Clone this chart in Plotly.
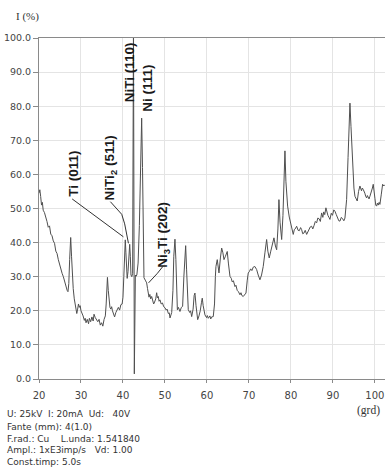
import plotly.graph_objects as go

two_theta = [
    20.0, 20.2, 20.4, 20.6, 20.8, 21.0, 21.3, 21.6, 21.9, 22.2, 22.5, 22.8, 23.1, 23.4, 23.7,
    24.0, 24.3, 24.6, 24.9, 25.2, 25.5, 25.8, 26.1, 26.4, 26.7, 26.9, 27.1, 27.3, 27.55, 27.75,
    27.95, 28.15, 28.4, 28.7, 29.0, 29.2, 29.4, 29.6, 29.8, 30.0, 30.2, 30.5, 30.8, 31.0, 31.2,
    31.5, 31.8, 32.0, 32.3, 32.6, 32.9, 33.1, 33.4, 33.7, 34.0, 34.3, 34.6, 34.9, 35.2, 35.5,
    35.8, 36.0, 36.15, 36.3, 36.5, 36.7, 36.9, 37.1, 37.3, 37.5, 37.8, 38.0, 38.3, 38.6, 38.9,
    39.2, 39.5, 39.8, 40.0, 40.2, 40.4, 40.55, 40.7, 40.85, 41.0, 41.2, 41.4, 41.6, 41.75, 41.9,
    42.1, 42.3, 42.5, 42.7, 42.95, 43.1, 43.3, 43.6, 43.9, 44.2, 44.45, 44.65, 44.85, 45.0, 45.3,
    45.64, 45.85, 46.02, 46.2, 46.4, 46.6, 46.83, 47.1, 47.3, 47.45, 47.6, 47.8, 48.02, 48.2,
    48.4, 48.6, 48.81, 49.1, 49.4, 49.7, 50.0, 50.3, 50.5, 50.8, 51.02, 51.2, 51.6, 51.9, 52.1,
    52.38, 52.6, 52.8, 52.95, 53.2, 53.4, 53.57, 53.9, 54.2, 54.5, 54.75, 54.93, 55.15, 55.35,
    55.55, 55.9, 56.1, 56.36, 56.7, 56.95, 57.14, 57.4, 57.79, 58.1, 58.4, 58.7, 58.88, 59.1,
    59.52, 59.9, 60.1, 60.31, 60.7, 60.9, 61.1, 61.5, 61.8, 62.0, 62.14, 62.45, 62.65, 62.86,
    63.2, 63.5, 63.8, 64.05, 64.4, 64.83, 65.1, 65.48, 65.8, 66.0, 66.3, 66.67, 66.9, 67.2, 67.5,
    67.86, 68.1, 68.3, 68.64, 69.0, 69.29, 69.6, 69.83, 70.1, 70.4, 70.7, 71.02, 71.4, 71.83,
    72.2, 72.62, 73.0, 73.4, 73.8, 74.21, 74.5, 74.83, 75.2, 75.6, 75.95, 76.3, 76.6, 76.9,
    77.14, 77.4, 77.79, 78.1, 78.35, 78.57, 78.8, 79.0, 79.21, 79.6, 79.93, 80.2, 80.55, 80.8,
    81.0, 81.36, 81.7, 82.0, 82.3, 82.55, 82.8, 83.1, 83.4, 83.74, 84.0, 84.3, 84.6, 84.93, 85.2,
    85.5, 85.8, 86.12, 86.4, 86.7, 87.0, 87.31, 87.6, 87.8, 88.05, 88.33, 88.6, 88.8, 89.05,
    89.29, 89.6, 89.9, 90.2, 90.48, 90.8, 91.1, 91.4, 91.67, 92.0, 92.3, 92.6, 92.86, 93.26,
    93.6, 93.85, 94.05, 94.3, 94.69, 95.0, 95.24, 95.5, 95.79, 96.1, 96.43, 96.8, 97.0, 97.21,
    97.4, 97.6, 97.8, 98.02, 98.2, 98.4, 98.6, 98.81, 99.0, 99.2, 99.4, 99.6, 99.8, 100.0,
    100.2, 100.4, 100.6, 100.8, 101.0, 101.19, 101.5, 101.83, 102.1, 102.4,
]
intensity = [
    54.5, 55.5, 53.5, 51.0, 51.8, 49.5, 48.8, 47.0, 46.2, 44.5, 44.9, 42.5, 42.0, 40.5, 39.8,
    37.5, 36.8, 35.0, 33.5, 32.8, 31.0, 30.0, 28.5, 27.2, 26.0, 25.6, 28.0, 35.0, 41.5, 36.0,
    30.0, 26.5, 23.5, 21.0, 19.2, 20.5, 22.0, 21.0, 21.5, 20.0, 19.5, 18.5, 17.2, 17.8, 16.5,
    17.5, 16.2, 17.8, 16.8, 18.2, 17.0, 19.0, 18.0, 17.2, 16.8, 17.5, 15.8, 16.5, 15.5, 17.5,
    18.5, 22.0, 27.0, 29.8, 26.0, 22.5, 21.0, 20.5, 21.2, 20.0, 19.0, 18.2, 19.5, 20.5, 21.0,
    20.2, 21.8, 22.0, 24.0, 30.0, 38.0, 40.8, 37.0, 31.0, 29.5, 31.5, 36.5, 39.5, 36.0, 30.5,
    30.0, 31.0, 105.0, 1.5, 30.5, 30.1, 30.5, 34.0, 45.0, 65.0, 76.5, 62.0, 40.0, 29.7, 29.0,
    28.2, 26.5, 25.3, 24.0, 24.8, 23.5, 24.2, 23.0, 22.0, 22.3, 22.8, 23.5, 25.3, 23.8,
    24.2, 22.8, 23.2, 22.0, 22.3, 21.2, 20.9, 20.2, 20.5, 19.2, 19.4, 17.9, 19.5, 26.0, 36.0,
    41.0, 35.0, 24.0, 20.3, 21.0, 20.0, 19.8, 21.0, 21.3, 30.0, 37.0, 39.1, 32.0, 24.0,
    20.3, 19.5, 20.0, 18.3, 20.5, 24.5, 25.2, 21.5, 17.4, 18.5, 20.0, 22.5, 23.7, 21.5,
    18.8, 18.0, 18.6, 17.8, 18.5, 17.6, 18.2, 18.3, 22.0, 30.0, 33.0, 35.0, 32.0, 31.1,
    35.5, 38.4, 37.0, 35.0, 36.0, 37.4, 34.0, 30.1, 29.5, 28.5, 28.8, 27.1, 27.5, 26.0, 25.6,
    24.7, 25.3, 24.5, 24.2, 24.8, 25.2, 29.0, 31.1, 31.5, 32.3, 31.8, 32.8, 33.0, 32.1,
    30.5, 29.1, 30.5, 33.0, 37.0, 40.9, 37.5, 35.5, 37.5, 39.5, 41.4, 39.0, 37.9, 44.0,
    52.6, 46.0, 40.9, 48.0, 60.0, 66.9, 58.0, 53.0, 50.7, 47.5, 45.8, 43.5, 42.4, 43.8,
    44.0, 44.8, 43.6, 43.5, 44.4, 43.8, 42.6, 42.8, 43.6, 42.4, 43.2, 43.8, 44.6, 44.8, 44.0,
    45.0, 46.2, 45.8, 47.2, 47.0, 46.2, 48.7, 47.4, 49.0, 48.2, 50.2, 48.6, 48.0, 47.4,
    46.8, 48.6, 48.0, 49.6, 49.2, 48.2, 47.5, 46.4, 46.3, 47.4, 47.0, 46.4, 47.2, 52.6,
    65.0, 76.0, 80.9, 74.0, 63.4, 56.0, 53.6, 53.0, 52.2, 55.0, 56.6, 55.2, 56.0, 55.6,
    54.6, 54.5, 53.6, 53.1, 53.8, 53.2, 52.8, 53.6, 54.2, 55.0, 56.0, 57.1, 53.5, 53.0,
    51.0, 50.7, 51.6, 51.0, 51.8, 51.2, 54.0, 57.1, 56.6, 57.0,
]

x_ticks = [20, 30, 40, 50, 60, 70, 80, 90, 100]
y_ticks = [0, 10, 20, 30, 40, 50, 60, 70, 80, 90, 100]

peak_labels = ["NiTi (110)", "Ni (111)", "Ti (011)", "NiTi<sub>2</sub> (511)", "Ni<sub>3</sub>Ti (202)"]
label_x = [41.45, 45.8, 28.2, 37.1, 49.6]
label_y = [90.0, 85.2, 60.3, 62.0, 42.4]

info_lines = [
    "U: 25kV\u00a0 I: 20mA\u00a0 Ud:\u00a0\u00a0 40V",
    "Fante (mm): 4(1.0)",
    "F.rad.: Cu\u00a0\u00a0\u00a0 L.unda: 1.541840",
    "Ampl.: 1xE3imp/s\u00a0\u00a0 Vd: 1.00",
    "Const.timp: 5.0s",
]

fig = go.Figure()
fig.add_trace(go.Scatter(
    x=two_theta, y=intensity, mode="lines",
    line=dict(color="#4f4f4f", width=1),
    hoverinfo="x+y", showlegend=False,
))

# leader lines from labels to peaks
leaders = [
    ([27.9, 40.1], [52.8, 41.7]),
    ([37.0, 39.7, 40.4, 41.3], [52.0, 48.3, 45.5, 39.8]),
    ([49.5, 48.2, 46.1], [33.0, 31.0, 28.2]),
]
for lx, ly in leaders:
    fig.add_trace(go.Scatter(x=lx, y=ly, mode="lines",
                             line=dict(color="#333333", width=1),
                             hoverinfo="skip", showlegend=False))

for txt, xx, yy in zip(peak_labels, label_x, label_y):
    fig.add_annotation(x=xx, y=yy, text="<b>" + txt + "</b>", textangle=-90,
                       showarrow=False, xanchor="center", yanchor="middle",
                       font=dict(family="Liberation Sans, Arial", size=13.5, color="#1a1a1a"))

fig.add_annotation(xref="paper", yref="paper", x=-0.032, y=1.0645, text="I (%)",
                   showarrow=False, xanchor="center", yanchor="middle",
                   font=dict(family="Liberation Serif, serif", size=11, color="#333"))
fig.add_annotation(xref="paper", yref="paper", x=0.951, y=-0.091, text="(grd)",
                   showarrow=False, xanchor="center", yanchor="middle",
                   font=dict(family="Liberation Serif, serif", size=11.5, color="#333"))

info_y = [-0.1026, -0.1395, -0.1745, -0.2095, -0.2445]
for txt, yy in zip(info_lines, info_y):
    fig.add_annotation(xref="paper", yref="paper", x=-0.098, y=yy, text=txt,
                       showarrow=False, xanchor="left", yanchor="middle",
                       font=dict(family="DejaVu Sans", size=9, color="#333"))

fig.update_layout(
    width=385, height=474,
    margin=dict(l=39, r=0, t=38, b=95, autoexpand=False),
    paper_bgcolor="white", plot_bgcolor="white",
    font=dict(family="DejaVu Sans", size=9.5, color="#444"),
    xaxis=dict(range=[20, 102.4], tickvals=x_ticks, ticktext=[str(v) for v in x_ticks],
               showgrid=True, gridcolor="#e4e4e4", gridwidth=1, automargin=False,
               showline=True, linecolor="#8a8a8a", linewidth=1, mirror=True,
               ticks="outside", ticklen=3, tickcolor="#8a8a8a", zeroline=False,
               ticklabelstandoff=4,
               tickfont=dict(size=10, color="#444")),
    yaxis=dict(range=[0, 100], tickvals=y_ticks, ticktext=[f"{v:.1f}" for v in y_ticks],
               showgrid=True, gridcolor="#e4e4e4", gridwidth=1, automargin=False,
               showline=True, linecolor="#8a8a8a", linewidth=1,
               ticks="outside", ticklen=5, tickcolor="#8a8a8a", zeroline=False,
               tickfont=dict(size=9.5, color="#444")),
)

fig.write_html("out.html", config={"displayModeBar": False},
               post_script="document.body.style.margin='0';document.body.style.overflow='hidden';")
